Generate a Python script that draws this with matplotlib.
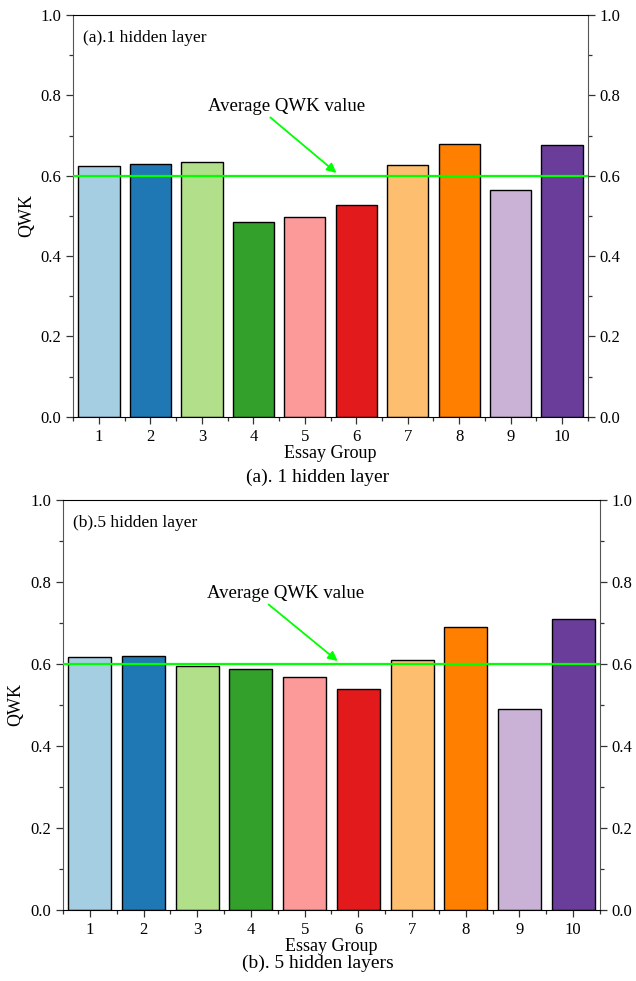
import numpy as np
import matplotlib
matplotlib.use("Agg")
import matplotlib.pyplot as plt
from matplotlib.ticker import MultipleLocator

plt.rcParams['font.family'] = ['Liberation Serif', 'DejaVu Serif']

# === DATA ===
groups = [1, 2, 3, 4, 5, 6, 7, 8, 9, 10]
qwk_1layer = [0.625, 0.628, 0.635, 0.485, 0.496, 0.527, 0.627, 0.679, 0.564, 0.677]
qwk_5layer = [0.617, 0.620, 0.596, 0.588, 0.568, 0.538, 0.610, 0.690, 0.490, 0.710]
avg_qwk = 0.6
bar_colors = ["#a6cee3", "#1f78b4", "#b2df8a", "#33a02c", "#fb9a99",
              "#e31a1c", "#fdbf6f", "#ff7f00", "#cab2d6", "#6a3d9a"]
panel_labels = ["(a).1 hidden layer", "(b).5 hidden layer"]
captions = ["(a). 1 hidden layer", "(b). 5 hidden layers"]

fig = plt.figure(figsize=(6.36, 9.81), dpi=100)
ax1 = fig.add_axes([0.1153, 0.5752, 0.8088, 0.4095])
ax2 = fig.add_axes([0.0990, 0.0724, 0.8444, 0.4180])


def draw_panel(ax, values, label):
    ax.bar(groups, values, width=0.8, color=bar_colors,
           edgecolor="black", linewidth=1.0, zorder=2)
    ax.axhline(avg_qwk, color="#00ff00", linewidth=1.6, zorder=3)
    ax.text(4.65, 0.772, "Average QWK value", fontsize=13.5,
            ha="center", va="center")
    ax.annotate("", xy=(5.615, 0.607), xytext=(4.33, 0.745),
                arrowprops=dict(arrowstyle="-|>", color="#00ff00", lw=1.3,
                                mutation_scale=14, shrinkA=0, shrinkB=0))
    ax.text(0.019, 0.943, label, transform=ax.transAxes, fontsize=12.5,
            ha="left", va="center")
    ax.set_xlim(0.5, 10.5)
    ax.set_ylim(0, 1.0)
    ax.set_xticks(groups)
    ax.xaxis.set_minor_locator(MultipleLocator(1, offset=0.5))
    ax.yaxis.set_major_locator(MultipleLocator(0.2))
    ax.yaxis.set_minor_locator(MultipleLocator(0.1))
    ax.yaxis.set_major_formatter(plt.FormatStrFormatter("%.1f"))
    ax.tick_params(which="both", direction="out", right=True, labelright=True,
                   labelsize=12, width=0.9, color="#333333")
    ax.tick_params(which="major", length=5)
    ax.tick_params(which="minor", length=3)
    for side in ["left", "right"]:
        ax.spines[side].set_color("#555555")
    ax.set_xlabel("Essay Group", fontsize=13, labelpad=0)
    ax.set_ylabel("QWK", fontsize=13, labelpad=4)


draw_panel(ax1, qwk_1layer, panel_labels[0])
draw_panel(ax2, qwk_5layer, panel_labels[1])

fig.text(0.5, 1 - 477 / 981, captions[0], ha="center", va="center", fontsize=14)
fig.text(0.5, 1 - 963 / 981, captions[1], ha="center", va="center", fontsize=14)

plt.savefig("out.png", dpi=100, facecolor="white")
plt.close()
